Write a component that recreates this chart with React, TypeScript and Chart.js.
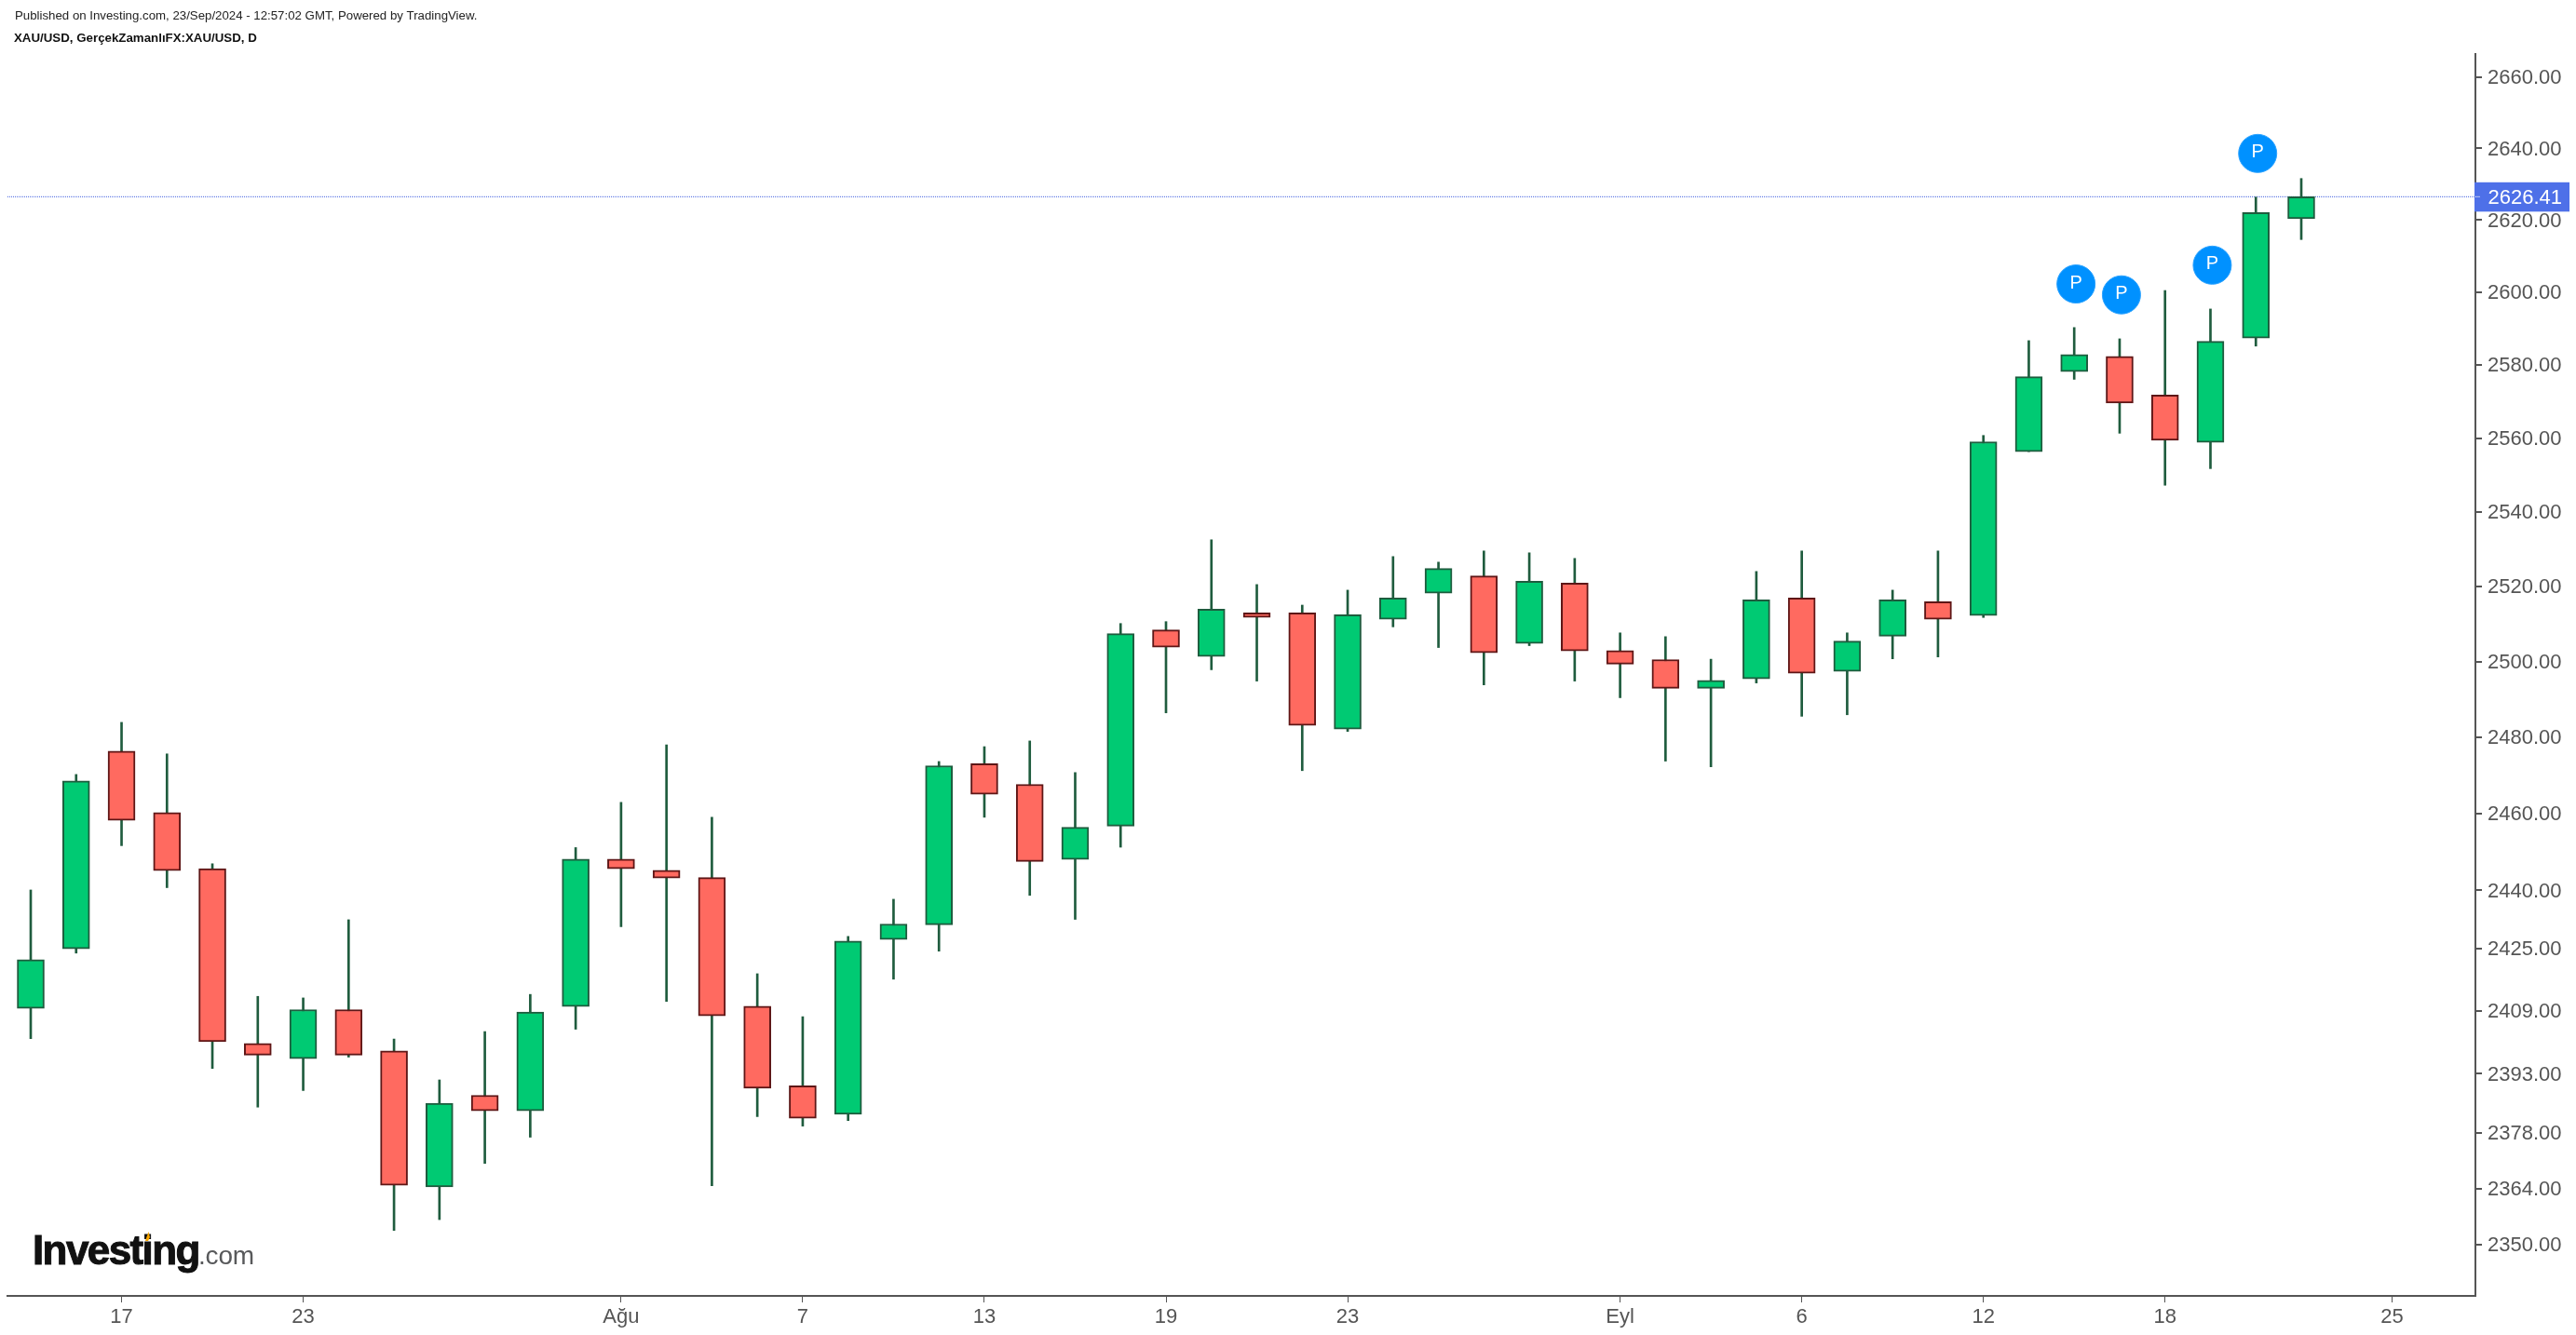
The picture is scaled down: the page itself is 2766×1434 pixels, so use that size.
import React, { useEffect, useRef } from "react";
import { Chart, registerables } from "chart.js";

Chart.register(...registerables);

const opens = [
  2409.6, 2424.9, 2476.3, 2460.2, 2445.6, 2400.7, 2396.8, 2409.3, 2398.8, 2364.4,
  2387.5, 2383.6, 2410.1, 2448.1, 2445.2, 2443.3, 2410.2, 2389.9, 2382.7, 2427.3,
  2431.1, 2473.0, 2467.6, 2448.0, 2456.7, 2508.4, 2501.3, 2512.9, 2512.9, 2482.1,
  2511.2, 2518.2, 2522.8, 2504.8, 2520.9, 2502.9, 2500.5, 2492.9, 2495.4, 2516.9,
  2497.4, 2506.7, 2515.9, 2512.2, 2556.3, 2578.1, 2582.3, 2571.7, 2558.8, 2587.3,
  2620.3,
];
const closes = [
  2422.1, 2468.5, 2458.2, 2445.1, 2401.1, 2397.7, 2409.3, 2397.7, 2364.8, 2385.5,
  2383.6, 2408.7, 2448.1, 2445.6, 2443.2, 2407.7, 2389.3, 2381.7, 2426.9, 2431.3,
  2472.5, 2465.0, 2447.5, 2456.4, 2507.4, 2503.8, 2513.9, 2511.7, 2483.1, 2512.4,
  2516.9, 2524.8, 2502.3, 2521.4, 2502.8, 2499.3, 2492.9, 2495.0, 2516.4, 2496.9,
  2505.4, 2516.4, 2511.2, 2559.0, 2576.7, 2582.8, 2569.5, 2559.4, 2586.4, 2622.0,
  2626.41,
];
const highs = [
  2440.1, 2470.2, 2483.9, 2475.6, 2446.9, 2412.7, 2412.3, 2432.4, 2401.8, 2391.4,
  2403.7, 2413.2, 2451.1, 2462.9, 2478.0, 2459.0, 2418.5, 2407.5, 2428.1, 2437.7,
  2473.6, 2477.5, 2479.0, 2470.7, 2510.1, 2510.6, 2532.5, 2520.5, 2515.0, 2519.0,
  2528.0, 2526.5, 2529.5, 2529.0, 2527.5, 2507.6, 2506.6, 2500.6, 2524.0, 2529.5,
  2507.6, 2519.0, 2529.5, 2560.7, 2586.6, 2590.2, 2587.1, 2600.4, 2595.3, 2626.3,
  2631.5,
];
const lows = [
  2401.9, 2423.8, 2451.6, 2440.7, 2394.3, 2384.5, 2388.7, 2397.2, 2353.5, 2356.2,
  2370.3, 2376.9, 2404.3, 2430.6, 2411.4, 2364.7, 2382.1, 2379.7, 2381.1, 2417.1,
  2424.3, 2459.0, 2438.7, 2432.5, 2451.2, 2486.4, 2497.8, 2494.8, 2471.2, 2481.5,
  2509.2, 2503.7, 2493.8, 2504.2, 2494.8, 2490.4, 2473.7, 2472.2, 2494.3, 2485.5,
  2485.9, 2500.7, 2501.2, 2511.7, 2556.3, 2576.0, 2561.3, 2547.2, 2551.7, 2585.1,
  2614.5,
];

const yTicks = [
  2660, 2640, 2620, 2600, 2580, 2560, 2540, 2520, 2500, 2480, 2460, 2440, 2425, 2409,
  2393, 2378, 2364, 2350,
];
const xTickSessions = [2, 6, 13, 17, 21, 25, 29, 35, 39, 43, 47, 52];
const xTickLabels = ["17", "23", "Ağu", "7", "13", "19", "23", "Eyl", "6", "12", "18", "25"];

const markerSessions = [45.04, 46.04, 48.04, 49.04];
const markerPrices = [2602.2, 2599.2, 2607.4, 2638.5];

const lastPrice = 2626.41;
const publishedLine = "Published on Investing.com, 23/Sep/2024 - 12:57:02 GMT, Powered by TradingView.";
const symbolLine = "XAU/USD, GerçekZamanlıFX:XAU/USD, D";

const FONT = '"Liberation Sans", Arial, sans-serif';
const AXIS = "#555555";
const X_MIN = -0.5127;
const X_MAX = 53.835;

const isUp = closes.map((c, i) => c >= opens[i]);

const overlay = {
  id: "overlay",
  afterDraw(chart: any) {
    const { ctx, scales } = chart;
    ctx.save();
    // header
    ctx.textBaseline = "middle";
    ctx.textAlign = "left";
    ctx.fillStyle = "#222222";
    ctx.font = `13.25px ${FONT}`;
    ctx.fillText(publishedLine, 16, 17);
    ctx.fillStyle = "#111111";
    ctx.font = `bold 13.3px ${FONT}`;
    ctx.fillText(symbolLine, 15, 41);

    // P labels on the markers
    const meta = chart.getDatasetMeta(0);
    ctx.fillStyle = "#ffffff";
    ctx.font = `20px ${FONT}`;
    ctx.textAlign = "center";
    meta.data.forEach((pt: any) => ctx.fillText("P", pt.x, pt.y - 1));

    // last price tag
    const y = scales.y.getPixelForValue(lastPrice);
    ctx.fillStyle = "#4e70e8";
    ctx.fillRect(2657, y - 15.5, 102, 31.5);
    ctx.fillStyle = "#b9c5f5";
    ctx.fillRect(2657, y - 0.5, 6, 1);
    ctx.fillStyle = "#ffffff";
    ctx.font = `22px ${FONT}`;
    ctx.textAlign = "left";
    ctx.fillText(lastPrice.toFixed(2), 2671.5, y + 1.5);

    // logo
    ctx.textBaseline = "alphabetic";
    ctx.filter = "blur(0.6px)";
    ctx.fillStyle = "#111111";
    ctx.strokeStyle = "#111111";
    ctx.lineWidth = 1;
    ctx.font = `bold 44px ${FONT}`;
    ctx.letterSpacing = "-1.6px";
    ctx.fillText("Investing", 35, 1358);
    ctx.strokeText("Investing", 35, 1358);
    ctx.fillStyle = "#58595b";
    ctx.font = `28px ${FONT}`;
    ctx.letterSpacing = "-0.2px";
    ctx.fillText(".com", 213, 1358);
    ctx.letterSpacing = "0px";
    ctx.fillStyle = "#f7a600";
    ctx.beginPath();
    ctx.moveTo(156, 1333);
    ctx.lineTo(159.5, 1323);
    ctx.lineTo(161, 1329);
    ctx.lineTo(159, 1333);
    ctx.closePath();
    ctx.fill();
    ctx.filter = "none";
    ctx.restore();
  },
};

export default function App() {
  const ref = useRef<HTMLCanvasElement>(null);
  useEffect(() => {
    document.body.style.margin = "0";
    document.body.style.background = "#ffffff";
    const chart = new Chart(ref.current as HTMLCanvasElement, {
      type: "bar",
      plugins: [overlay],
      data: {
        datasets: [
          {
            type: "scatter",
            order: 0,
            data: markerSessions.map((x, i) => ({ x, y: markerPrices[i] })),
            pointStyle: "circle",
            pointRadius: 20.5,
            pointBackgroundColor: "#0091ff",
            pointBorderColor: "#2ba2ff",
            pointBorderWidth: 1,
          },
          {
            type: "bar",
            order: 1,
            grouped: false,
            barThickness: 29,
            borderSkipped: false,
            borderWidth: 2,
            backgroundColor: isUp.map((u) => (u ? "#00ca73" : "#ff6a60")),
            borderColor: isUp.map((u) => (u ? "#1e5c3e" : "#5e1616")),
            data: opens.map((o, i) => ({ x: i, y: [Math.min(o, closes[i]), Math.max(o, closes[i])] })),
          },
          {
            type: "bar",
            order: 2,
            grouped: false,
            barThickness: 2,
            borderWidth: 0,
            backgroundColor: "#1f5c3e",
            data: highs.map((h, i) => ({ x: i, y: [lows[i], h] })),
          },
          {
            type: "line",
            order: 3,
            data: [
              { x: X_MIN, y: lastPrice },
              { x: X_MAX, y: lastPrice },
            ],
            borderColor: "#3f5fe0",
            borderWidth: 1,
            borderDash: [1, 1],
            pointRadius: 0,
          },
        ],
      } as any,
      options: {
        animation: false,
        responsive: false,
        layout: { autoPadding: false, padding: { top: 58, left: 8, right: 0, bottom: 0 } },
        plugins: { legend: { display: false }, tooltip: { enabled: false } },
        scales: {
          x: {
            type: "linear",
            min: X_MIN,
            max: X_MAX,
            offset: false,
            afterBuildTicks: (s: any) => {
              s.ticks = xTickSessions.map((value) => ({ value }));
            },
            afterFit: (s: any) => {
              s.height = 42;
              s.paddingLeft = 0;
              s.paddingRight = 0;
            },
            border: { display: true, color: AXIS, width: 2 },
            grid: { offset: false, drawOnChartArea: false, drawTicks: true, tickLength: 7, color: AXIS, lineWidth: 1 },
            ticks: {
              autoSkip: false,
              maxRotation: 0,
              minRotation: 0,
              padding: 3,
              color: AXIS,
              font: { family: FONT, size: 22 },
              callback: (v: any) => xTickLabels[xTickSessions.indexOf(Number(v))] ?? "",
            },
          },
          y: {
            type: "logarithmic",
            position: "right",
            min: 2337.2,
            max: 2666.5,
            afterBuildTicks: (s: any) => {
              s.ticks = yTicks.map((value) => ({ value }));
            },
            afterFit: (s: any) => {
              s.width = 108;
              s.paddingTop = 0;
              s.paddingBottom = 0;
            },
            border: { display: true, color: AXIS, width: 2 },
            grid: { drawOnChartArea: false, drawTicks: true, tickLength: 7, color: AXIS, lineWidth: 2 },
            ticks: {
              autoSkip: false,
              padding: 6,
              labelOffset: 1.5,
              color: AXIS,
              font: { family: FONT, size: 22 },
              callback: (v: any) => Number(v).toFixed(2),
            },
          },
        },
      } as any,
    });
    return () => chart.destroy();
  }, []);
  return (
    <div style={{ width: 2766, height: 1434, background: "#ffffff" }}>
      <canvas ref={ref} width={2766} height={1434} style={{ display: "block" }} />
    </div>
  );
}
